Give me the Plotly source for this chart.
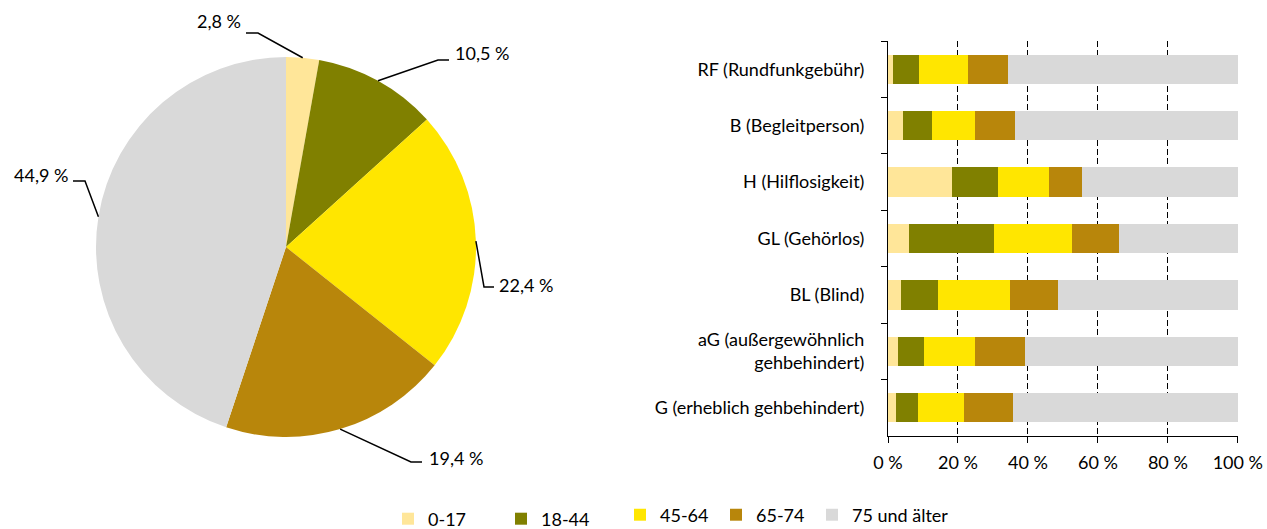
import numpy as np
import plotly.graph_objects as go

# Age groups shared by both panels
AGE_GROUPS = ["0-17", "18-44", "45-64", "65-74", "75 und älter"]
COLORS = ["#FFE699", "#808000", "#FFE600", "#B8860B", "#D9D9D9"]

# Left panel: overall age distribution (%)
PIE_SHARES = [2.8, 10.5, 22.4, 19.4, 44.9]

# Right panel: age distribution per Merkzeichen (%)
MARKS = [
    "RF (Rundfunkgebühr)",
    "B (Begleitperson)",
    "H (Hilflosigkeit)",
    "GL (Gehörlos)",
    "BL (Blind)",
    "aG (außergewöhnlich<br>gehbehindert)",
    "G (erheblich gehbehindert)",
]
SHARE_0_17 = [1.4, 4.3, 18.2, 6.0, 3.6, 2.9, 2.4]
SHARE_18_44 = [7.6, 8.2, 13.1, 24.2, 10.8, 7.4, 6.2]
SHARE_45_64 = [13.9, 12.3, 14.7, 22.3, 20.4, 14.7, 13.2]
SHARE_65_74 = [11.4, 11.5, 9.4, 13.4, 13.9, 14.3, 13.9]
SHARE_75_PLUS = [65.7, 63.7, 44.6, 34.1, 51.3, 60.7, 64.3]
BAR_SERIES = [SHARE_0_17, SHARE_18_44, SHARE_45_64, SHARE_65_74, SHARE_75_PLUS]

XTICK_VALS = [0, 20, 40, 60, 80, 100]
XTICK_TEXT = ["0 %", "20 %", "40 %", "60 %", "80 %", "100 %"]

# ---- page geometry (pixels) ----
W, H = 1267, 529
FONT = "Lato"
FS = 18
TXT = "#000000"


def px(x):
    return x / W


def py(y):
    return 1 - y / H


PIE_BOX = (96, 57, 476, 437)          # left, top, right, bottom
BAR_BOX = (888, 41, 1238, 436)

# per-slice leader layout: elbow point, tail end x, text x, text y, text anchor
LABEL_LAYOUT = [
    (258, 33, 246, 243, 21, "right"),
    (438, 60, 449, 453, 53, "left"),
    (484, 287, 494, 497, 285, "left"),
    (411, 462, 422, 427, 458, "left"),
    (85, 181, 73, 70, 175, "right"),
]

# one legend box per age group (left edge, vertical centre)
LEGEND_SLOTS = [(388, 519), (501, 519), (620, 515), (716, 515), (812, 515)]
LEGEND_IDS = ["legend", "legend2", "legend3", "legend4", "legend5"]

fig = go.Figure()

fig.add_trace(go.Pie(
    values=PIE_SHARES,
    labels=AGE_GROUPS,
    sort=False,
    direction="clockwise",
    rotation=0,
    textinfo="none",
    marker=dict(colors=COLORS, line=dict(width=0)),
    showlegend=False,
    domain=dict(x=[px(PIE_BOX[0]), px(PIE_BOX[2])],
                y=[py(PIE_BOX[3]), py(PIE_BOX[1])]),
))

for name, vals, col, lid in zip(AGE_GROUPS, BAR_SERIES, COLORS, LEGEND_IDS):
    fig.add_trace(go.Bar(
        orientation="h",
        x=vals,
        y=MARKS,
        name=name,
        marker=dict(color=col, line=dict(width=0)),
        xaxis="x",
        yaxis="y",
        legend=lid,
    ))

# leader lines + value labels for the pie, anchored at each slice's mid-angle
cx = (PIE_BOX[0] + PIE_BOX[2]) / 2
cy = (PIE_BOX[1] + PIE_BOX[3]) / 2
r = (PIE_BOX[2] - PIE_BOX[0]) / 2
shares = np.array(PIE_SHARES, dtype=float)
cum = np.cumsum(shares) - shares / 2
angles = np.deg2rad(cum / shares.sum() * 360.0)

shapes = []
annotations = []
for ang, val, (ex, ey, tx, lx, ly, anchor) in zip(angles, PIE_SHARES, LABEL_LAYOUT):
    sx = cx + r * np.sin(ang)
    sy = cy - r * np.cos(ang)
    shapes.append(dict(
        type="path", xref="paper", yref="paper",
        path=f"M {px(sx)},{py(sy)} L {px(ex)},{py(ey)} L {px(tx)},{py(ey)}",
        line=dict(color="#000000", width=1.5),
    ))
    annotations.append(dict(
        xref="paper", yref="paper", x=px(lx), y=py(ly),
        xanchor=anchor, yanchor="middle", showarrow=False,
        text=f"{val:.1f} %".replace(".", ","),
        font=dict(family=FONT, size=FS, color=TXT),
    ))

legends = {}
for lid, (lx, ly) in zip(LEGEND_IDS, LEGEND_SLOTS):
    legends[lid] = dict(
        orientation="h",
        x=px(lx), y=py(ly),
        xanchor="left", yanchor="middle",
        font=dict(family=FONT, size=FS, color=TXT),
        bgcolor="rgba(0,0,0,0)",
    )

fig.update_layout(
    width=W, height=H,
    margin=dict(l=0, r=0, t=0, b=0, autoexpand=False),
    paper_bgcolor="white",
    plot_bgcolor="white",
    font=dict(family=FONT, size=FS, color=TXT),
    barmode="stack",
    bargap=0.48,
    shapes=shapes,
    annotations=annotations,
    xaxis=dict(
        domain=[px(BAR_BOX[0]), px(BAR_BOX[2])],
        anchor="y",
        range=[0, 100.05],
        tickvals=XTICK_VALS,
        ticktext=XTICK_TEXT,
        showgrid=True,
        griddash="6px,3px",
        gridcolor="#000000",
        gridwidth=1,
        zeroline=False,
        showline=True,
        linecolor="#000000",
        linewidth=1,
        ticks="outside",
        ticklen=6,
        tickcolor="#000000",
        ticklabelstandoff=4,
        tickfont=dict(family=FONT, size=FS, color=TXT),
        fixedrange=True,
    ),
    yaxis=dict(
        domain=[py(BAR_BOX[3]), py(BAR_BOX[1])],
        anchor="x",
        categoryorder="array",
        categoryarray=MARKS,
        autorange="reversed",
        showline=True,
        linecolor="#000000",
        linewidth=1,
        ticks="outside",
        tickson="boundaries",
        ticklen=6,
        tickcolor="#000000",
        ticklabelstandoff=19,
        showgrid=False,
        tickfont=dict(family=FONT, size=FS, color=TXT),
        fixedrange=True,
    ),
    **legends,
)

fig.write_html("out.html")
